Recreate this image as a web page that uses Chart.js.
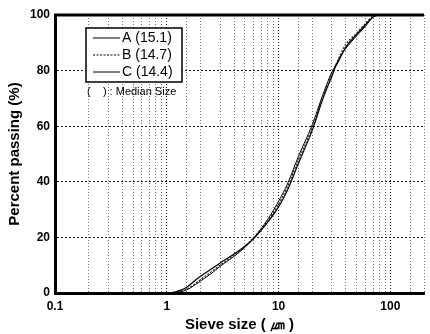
<!DOCTYPE html>
<html>
<head>
<meta charset="utf-8">
<script src="https://cdn.jsdelivr.net/npm/chart.js@4"></script>
<style>
  body { margin: 0; background: #fff; }
  #wrap { width: 430px; height: 334px; }
</style>
</head>
<body>
<div id="wrap"><canvas id="chart" width="430" height="334"></canvas></div>
<script>
// sieve sizes (um) and percent passing
const sizes = [0.1, 0.5, 1, 1.2, 1.5, 1.8, 2, 2.5, 3, 4, 5, 6, 8, 10, 12, 15, 20, 25, 30, 32, 35, 40, 50, 60, 70, 80, 200];
const seriesA = [0, 0, 0, 0.4, 2.0, 4.6, 6.0, 8.6, 10.8, 14.0, 16.8, 19.6, 25.5, 31.0, 37.0, 46.5, 58.5, 70.0, 78.0, 81.0, 84.0, 88.5, 93.0, 96.5, 99.3, 100, 100];
const seriesB = [0, 0, 0, 0.2, 1.3, 3.4, 4.8, 7.6, 10.0, 13.6, 16.8, 20.0, 26.0, 32.0, 38.2, 47.8, 59.5, 71.0, 79.0, 81.5, 85.0, 89.5, 93.5, 97.0, 99.5, 100, 100];
const seriesC = [0, 0, 0, 0.2, 1.1, 3.0, 4.3, 7.0, 9.6, 13.2, 16.4, 19.8, 26.5, 33.0, 39.2, 49.0, 60.5, 71.5, 79.5, 81.5, 84.5, 88.0, 92.5, 96.0, 99.2, 100, 100];
const seriesNames = ["A (15.1)", "B (14.7)", "C (14.4)"];
const yTicks = [0, 20, 40, 60, 80, 100];

const FONT = "Arial, 'Liberation Sans', sans-serif";

function pts(vals) {
  return sizes.map((s, i) => ({ x: s, y: vals[i] }));
}

function isDecade(v) {
  const lg = Math.log10(v);
  return Math.abs(lg - Math.round(lg)) < 1e-6;
}

// legend drawn inside the plot, like the original
const legendBox = {
  id: "legendBox",
  afterDraw(chart) {
    const ctx = chart.ctx;
    const a = chart.chartArea;
    const x0 = a.left + 31, y0 = a.top + 13, w = 96, h = 54;
    ctx.save();
    ctx.fillStyle = "#fff";
    ctx.fillRect(x0, y0, w, h);
    ctx.strokeStyle = "#000";
    ctx.lineWidth = 1.5;
    ctx.strokeRect(x0, y0, w, h);
    ctx.font = "14px " + FONT;
    ctx.textBaseline = "middle";
    chart.data.datasets.forEach((ds, i) => {
      const y = y0 + 10 + i * 17;
      ctx.beginPath();
      ctx.setLineDash(ds.borderDash || []);
      ctx.lineWidth = 1;
      ctx.strokeStyle = "#000";
      ctx.moveTo(x0 + 7, y);
      ctx.lineTo(x0 + 34, y);
      ctx.stroke();
      ctx.setLineDash([]);
      ctx.fillStyle = "#000";
      ctx.fillText(ds.label, x0 + 36, y);
    });
    ctx.font = "11px " + FONT;
    ctx.fillText("(    ) : Median Size", x0 + 1, y0 + h + 10);
    ctx.restore();
  }
};

const topFrame = {
  id: "topFrame",
  afterDatasetsDraw(chart) {
    const ctx = chart.ctx;
    const a = chart.chartArea;
    ctx.save();
    ctx.strokeStyle = "#000";
    ctx.lineWidth = 3;
    ctx.beginPath();
    ctx.moveTo(a.left - 1, a.top);
    ctx.lineTo(a.right, a.top);
    ctx.stroke();
    ctx.restore();
  }
};

new Chart(document.getElementById("chart"), {
  type: "line",
  data: {
    datasets: [
      { label: seriesNames[0], data: pts(seriesA), borderColor: "#000", borderWidth: 1.2 },
      { label: seriesNames[1], data: pts(seriesB), borderColor: "#222", borderWidth: 1.2, borderDash: [2, 1.5] },
      { label: seriesNames[2], data: pts(seriesC), borderColor: "#000", borderWidth: 1 }
    ]
  },
  options: {
    responsive: false,
    animation: false,
    layout: { padding: { top: 15, right: 0, left: 6, bottom: 0 } },
    elements: {
      point: { radius: 0 },
      line: { cubicInterpolationMode: "monotone", fill: false }
    },
    plugins: { legend: { display: false }, tooltip: { enabled: false } },
    scales: {
      x: {
        type: "logarithmic",
        min: 0.1,
        max: 200,
        afterFit(s) { s.height = 41; },
        border: { color: "#000", width: 3, dash: [1, 2] },
        grid: {
          drawTicks: false,
          color(c) {
            const v = c.tick ? c.tick.value : 0;
            return isDecade(v) ? "#111" : "#777";
          },
          lineWidth: 1
        },
        ticks: {
          autoSkip: false,
          maxRotation: 0,
          padding: 6,
          color: "#000",
          font: { family: FONT, size: 12, weight: "bold" },
          callback(v) {
            return isDecade(v) && v <= 100 ? String(v) : "";
          }
        },
        title: {
          display: true,
          text: "Sieve size ( ㎛ )",
          color: "#000",
          padding: { top: 1, bottom: 0 },
          font: { family: FONT, size: 15, weight: "bold" }
        }
      },
      y: {
        min: 0,
        max: 100,
        afterFit(s) { s.width = 49; },
        afterBuildTicks(s) { s.ticks = yTicks.map(v => ({ value: v })); },
        border: { color: "#000", width: 3, dash: [2, 2] },
        grid: {
          drawTicks: false,
          color: "#222",
          lineWidth: 1
        },
        ticks: {
          padding: 5,
          color: "#000",
          font: { family: FONT, size: 12, weight: "bold" }
        },
        title: {
          display: true,
          text: "Percent passing (%)",
          color: "#000",
          padding: { top: 0, bottom: 2 },
          font: { family: FONT, size: 15, weight: "bold" }
        }
      }
    }
  },
  plugins: [legendBox, topFrame]
});
</script>
</body>
</html>
